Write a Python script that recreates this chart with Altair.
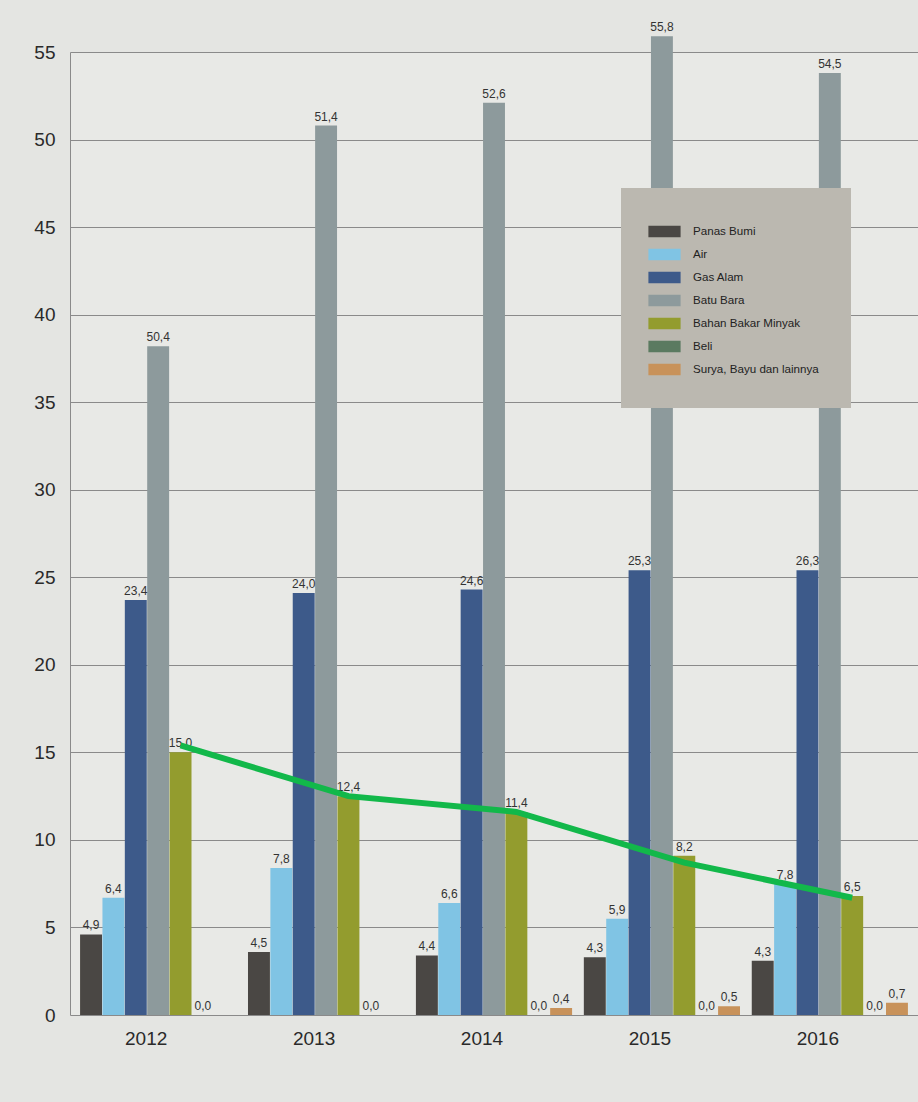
import altair as alt
import pandas as pd

years = ["2012", "2013", "2014", "2015", "2016"]
series = ["Panas Bumi", "Air", "Gas Alam", "Batu Bara", "Bahan Bakar Minyak", "Beli", "Surya, Bayu dan lainnya"]
colors = ["#4a4744", "#80c4e4", "#3d5a8a", "#8d9a9c", "#939c2e", "#5a7a60", "#c8925a"]

# bar heights as drawn in the picture
panas_bumi = [4.6, 3.6, 3.4, 3.3, 3.1]
air = [6.7, 8.4, 6.4, 5.5, 7.5]
gas_alam = [23.7, 24.1, 24.3, 25.4, 25.4]
batu_bara = [38.2, 50.8, 52.1, 55.9, 53.8]
bbm = [15.0, 12.5, 11.6, 9.1, 6.8]
beli = [0.0, 0.0, 0.0, 0.0, 0.0]
surya = [None, None, 0.4, 0.5, 0.7]

# printed value labels
panas_bumi_lbl = ["4,9", "4,5", "4,4", "4,3", "4,3"]
air_lbl = ["6,4", "7,8", "6,6", "5,9", "7,8"]
gas_alam_lbl = ["23,4", "24,0", "24,6", "25,3", "26,3"]
batu_bara_lbl = ["50,4", "51,4", "52,6", "55,8", "54,5"]
bbm_lbl = ["15,0", "12,4", "11,4", "8,2", "6,5"]
beli_lbl = ["0,0", "0,0", "0,0", "0,0", "0,0"]
surya_lbl = ["", "", "0,4", "0,5", "0,7"]

# green trend line over Bahan Bakar Minyak
trend = [15.4, 12.5, 11.6, 8.7, 6.7]

heights = [panas_bumi, air, gas_alam, batu_bara, bbm, beli, surya]
labels = [panas_bumi_lbl, air_lbl, gas_alam_lbl, batu_bara_lbl, bbm_lbl, beli_lbl, surya_lbl]

rows = []
for s, hs, ls in zip(series, heights, labels):
    for y, h, l in zip(years, hs, ls):
        rows.append({"year": y, "series": s, "value": h, "label": l,
                     "ypos": 0.0 if h is None else h})
df = pd.DataFrame(rows)
df_bars = df[df["value"].notna()]
df_lbl = df[df["label"] != ""]

df_trend = pd.DataFrame({"year": years, "series": ["Bahan Bakar Minyak"] * 5, "value": trend})

FONT = "Liberation Sans Narrow, Liberation Sans, Arial, sans-serif"

x_enc = alt.X("year:N", sort=years,
              scale=alt.Scale(paddingInner=0.07, paddingOuter=0.06),
              axis=alt.Axis(title=None, labelAngle=0, labelFontSize=19, labelColor="#2a2a2a",
                            labelFont=FONT, labelPadding=14, labelOffset=-12,
                            domain=False, ticks=False, grid=False))
xo_enc = alt.XOffset("series:N", sort=series, scale=alt.Scale(domain=series, paddingInner=0.02))
y_scale = alt.Scale(domain=[0, 55], nice=False, zero=True)

bars = alt.Chart(df_bars).mark_bar().encode(
    x=x_enc,
    xOffset=xo_enc,
    y=alt.Y("value:Q", scale=y_scale,
            axis=alt.Axis(title=None, values=list(range(0, 56, 5)), labelFontSize=19,
                          labelColor="#2a2a2a", labelFont=FONT, labelPadding=15,
                          ticks=False, domain=True, domainColor="#8a8a8a",
                          grid=True, gridColor="#8a8a8a", gridWidth=1)),
    color=alt.Color("series:N", sort=series,
                    scale=alt.Scale(domain=series, range=colors),
                    legend=alt.Legend(title=None, orient="none", legendX=551, legendY=136,
                                      fillColor="#bbb8b0", padding=32,
                                      symbolType="M-1.4,-0.5H1.4V0.5H-1.4Z", symbolSize=529,
                                      symbolStrokeWidth=0, rowPadding=5, labelOffset=17,
                                      labelFontSize=11.6, labelFont=FONT, labelColor="#222222")),
)

texts = alt.Chart(df_lbl).mark_text(dy=-9, fontSize=12, font=FONT, color="#333333").encode(
    x=alt.X("year:N", sort=years),
    xOffset=alt.XOffset("series:N", sort=series),
    y=alt.Y("ypos:Q", scale=y_scale),
    text="label:N",
)

line = alt.Chart(df_trend).mark_line(color="#12b84a", strokeWidth=6).encode(
    x=alt.X("year:N", sort=years),
    xOffset=alt.XOffset("series:N", sort=series),
    y=alt.Y("value:Q", scale=y_scale),
)

chart = alt.layer(bars, texts, line).properties(
    width=848, height=963,
    autosize=alt.AutoSizeParams(type="none"),
    padding={"left": 70, "top": 52, "right": 0, "bottom": 87},
    background="#e4e5e2",
).configure_view(stroke=None, fill="#e8e9e6")

chart.save("out.html", embed_options={"renderer": "svg", "actions": False})
